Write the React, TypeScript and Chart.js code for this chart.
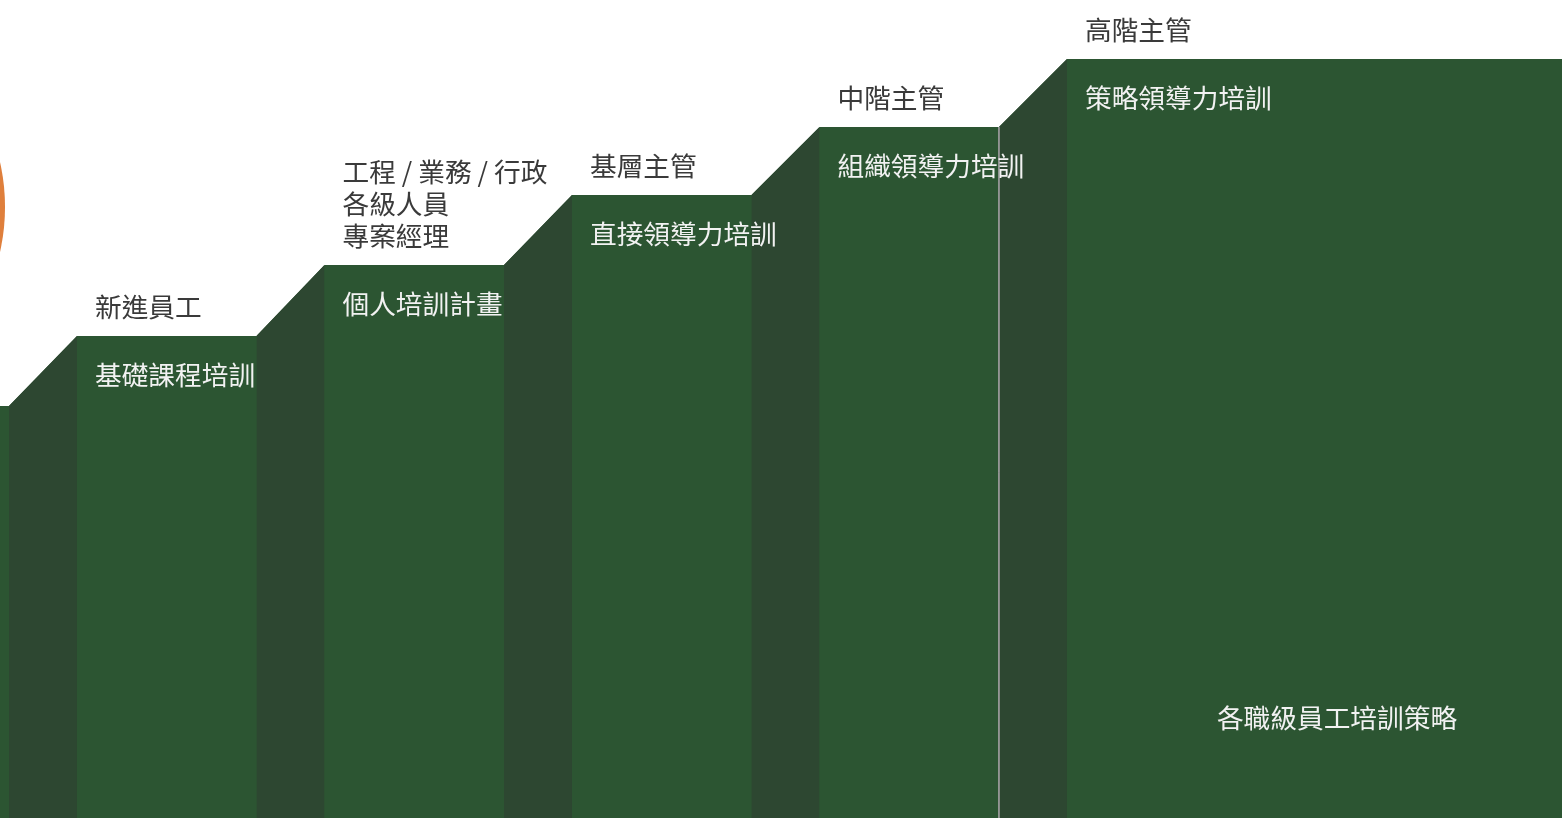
import React, { useEffect, useRef } from "react";
import { Chart, registerables } from "chart.js";

Chart.register(...registerables);

// Level heights (bottom = 0, canvas top = 818)
const stepHeights = [412, 482, 553, 623, 691, 759];
const topLabels: string[][] = [
  ["新進員工"],
  ["工程 / 業務 / 行政", "各級人員", "專案經理"],
  ["基層主管"],
  ["中階主管"],
  ["高階主管"],
];
const innerLabels = ["基礎課程培訓", "個人培訓計畫", "直接領導力培訓", "組織領導力培訓", "策略領導力培訓"];
const footerLabel = "各職級員工培訓策略";

const RISER = 0.275; // riser width as fraction of one level period
const X_MIN = -0.036;
const X_MAX = 6.275;
const Y_MAX = 818;

const STEP_COLOR = "#2C5532";
const RISER_COLOR = "#2D4731";
const FONT = '"Noto Sans CJK TC", "Noto Sans", sans-serif';

export default function App() {
  const ref = useRef<HTMLCanvasElement>(null);
  useEffect(() => {
    document.body.style.margin = "0";
    const outline: { x: number; y: number }[] = [{ x: X_MIN, y: stepHeights[0] }];
    for (let k = 1; k < stepHeights.length; k++) {
      outline.push({ x: k - 1, y: stepHeights[k - 1] });
      outline.push({ x: k - 1 + RISER, y: stepHeights[k] });
    }
    outline.push({ x: X_MAX, y: stepHeights[stepHeights.length - 1] });

    const risers = stepHeights.slice(1).map((h, i) => ({
      type: "line" as const,
      data: [
        { x: i, y: stepHeights[i] },
        { x: i + RISER, y: h },
      ],
      backgroundColor: RISER_COLOR,
      borderWidth: 0,
      pointRadius: 0,
      fill: "origin",
      order: 2,
    }));

    const textPlugin = {
      id: "stairText",
      afterDatasetsDraw(chart: any) {
        const { ctx, scales } = chart;
        const xs = scales.x;
        const ys = scales.y;
        ctx.save();
        ctx.font = `26.7px ${FONT}`;
        ctx.textBaseline = "middle";
        ctx.textAlign = "left";
        for (let i = 0; i < innerLabels.length; i++) {
          const x0 = xs.getPixelForValue(i + RISER) + 18;
          const top = ys.getPixelForValue(stepHeights[i + 1]);
          ctx.fillStyle = "#3a3a3a";
          const lines = topLabels[i];
          lines.forEach((ln, j) => {
            const y = top - 29 - (lines.length - 1 - j) * 32;
            ctx.fillText(ln, x0, y);
          });
          ctx.fillStyle = "#F2F2F2";
          ctx.fillText(innerLabels[i], x0, top + 39);
        }
        ctx.textAlign = "center";
        ctx.fillStyle = "#F2F2F2";
        ctx.fillText(footerLabel, xs.getPixelForValue(5.366), ys.getPixelForValue(100));
        ctx.restore();
      },
    };

    const chart = new Chart(ref.current!, {
      type: "line",
      data: {
        datasets: [
          {
            type: "bubble",
            data: [{ x: -0.844, y: 611, r: 205 }],
            backgroundColor: "#DF7F3C",
            borderWidth: 0,
            order: 5,
          } as any,
          {
            type: "line",
            data: outline,
            backgroundColor: STEP_COLOR,
            borderWidth: 0,
            pointRadius: 0,
            fill: "origin",
            order: 4,
          },
          ...risers,
          {
            type: "line",
            data: [
              { x: 4, y: stepHeights[4] },
              { x: 4, y: 0 },
            ],
            borderColor: "#9C9C9C",
            borderWidth: 1,
            pointRadius: 0,
            fill: false,
            order: 1,
          },
        ] as any,
      },
      options: {
        animation: false,
        responsive: false,
        events: [],
        layout: { padding: 0, autoPadding: false },
        plugins: { legend: { display: false }, tooltip: { enabled: false } },
        scales: {
          x: { type: "linear", min: X_MIN, max: X_MAX, display: false },
          y: { type: "linear", min: 0, max: Y_MAX, display: false },
        },
      },
      plugins: [textPlugin],
    });
    return () => chart.destroy();
  }, []);
  return (
    <div style={{ width: 1562, height: 818 }}>
      <canvas ref={ref} width={1562} height={818} style={{ display: "block" }} />
    </div>
  );
}
